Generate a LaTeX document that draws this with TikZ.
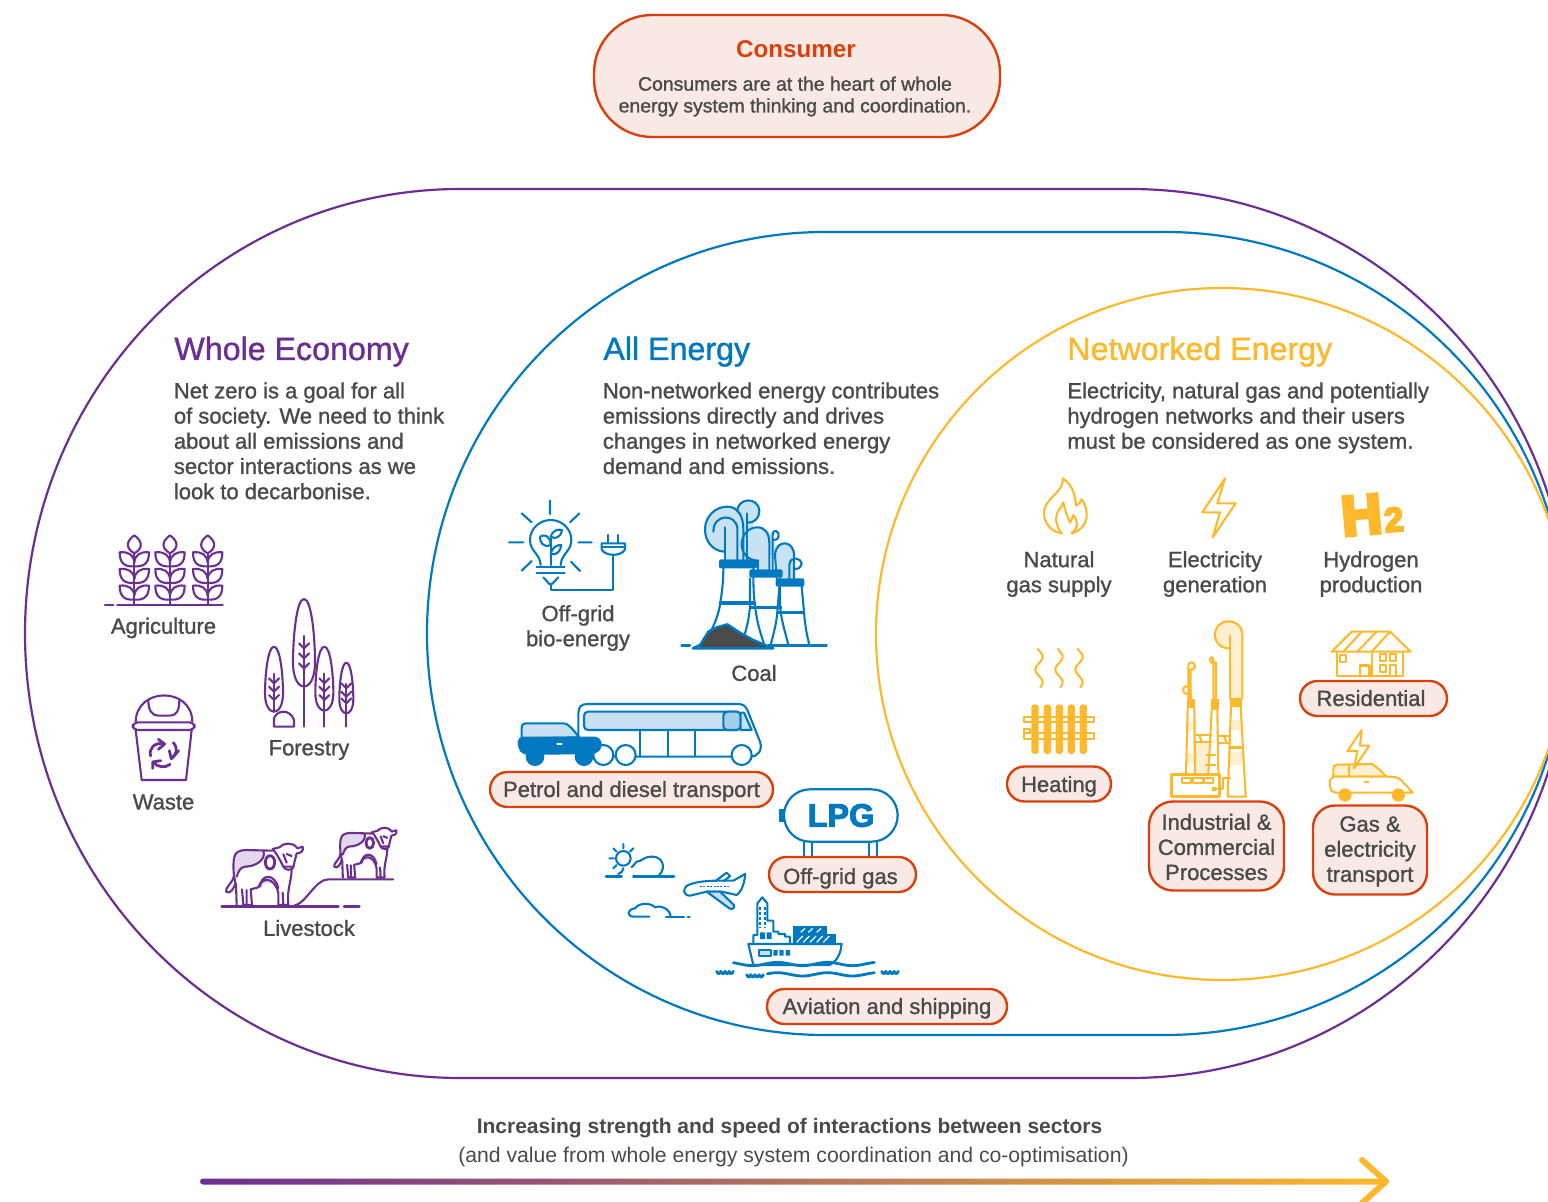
\documentclass[tikz,border=0pt]{standalone}
\usepackage{fontspec}
\setmainfont{Liberation Sans}
\newfontfamily\medfont[FakeBold=1.2]{Liberation Sans}
\newfontfamily\boldfont{Liberation Sans Bold}
\newfontfamily\lpgfont[FakeBold=3]{Liberation Sans Bold}
\newfontfamily\heavyfont[FakeBold=7]{Liberation Sans Bold}
\definecolor{ecopurple}{HTML}{6B2E91}
\definecolor{enblue}{HTML}{0079C1}
\definecolor{netyellow}{HTML}{FDB92B}
\definecolor{lightblue}{HTML}{C9E2F3}
\definecolor{midblue}{HTML}{A3CFEB}
\definecolor{lightyellow}{HTML}{FEEFD0}
\definecolor{lightpurple}{HTML}{E3D8EC}
\definecolor{txt}{HTML}{4A4A4A}
\definecolor{pillred}{HTML}{D9400B}
\definecolor{pillfill}{HTML}{F9E9E5}
\tikzset{
  zoomed/.style 2 args={shift={(#1,#2)},x=0.16667pt,y=-0.16667pt},
  ico/.style={line width=1.05pt,line join=round,line cap=round},
  purpleico/.style={ico,draw=ecopurple},
  blueico/.style={ico,draw=enblue},
  yellowico/.style={ico,draw=netyellow},
  heading/.style={anchor=base west,inner sep=0pt,font=\medfont\fontsize{16.1}{19}\selectfont},
  bodytext/.style={anchor=north west,inner sep=0pt,align=left,text=txt,font=\medfont\fontsize{11}{12.6}\selectfont},
  lbl/.style={inner sep=0pt,align=center,text=txt,font=\medfont\fontsize{11}{12.55}\selectfont},
  pillbox/.style={draw=pillred,fill=pillfill,line width=1.2pt,inner sep=0pt,align=center,text=txt,
    font=\medfont\fontsize{11}{12.55}\selectfont,rounded corners=8.7pt,minimum height=17.5pt},
  pillbase/.style={text height=#1,text depth=0pt},
}
% crown and trunk of one tree, in zoomed units
\newcommand{\treeicon}[6]{%
  \pgfmathsetmacro{\trh}{#3-#2}%
  \draw[purpleico,shift={(#1,0)}] (0,#2) .. controls ({0.7*#4},#2) and (#4,{#2+0.45*\trh}) .. (#4,{#2+0.72*\trh})
     .. controls (#4,{#2+0.92*\trh}) and ({0.45*#4},#3) .. (0,#3)
     .. controls ({-0.45*#4},#3) and (-#4,{#2+0.92*\trh}) .. (-#4,{#2+0.72*\trh})
     .. controls (-#4,{#2+0.45*\trh}) and ({-0.7*#4},#2) .. (0,#2) -- cycle;
  \foreach \bry in {#6} {
    \draw[purpleico,shift={(#1,0)}] (-15,{\bry-15}) -- (0,\bry) -- (15,{\bry-15});
  }
  \draw[purpleico] (#1,#5) -- (#1,{#2+0.42*\trh});
}
% one cow, in zoomed units
\newcommand{\cowicon}{%
  \fill[lightpurple] (437,1005) .. controls (437,992) and (455,990) .. (470,990) -- (520,992)
     .. controls (530,1020) and (495,1040) .. (465,1040) .. controls (450,1042) and (445,1055) .. (435,1060) -- cycle;
  \fill[lightpurple] (510,1100) .. controls (512,1062) and (555,1058) .. (565,1105) .. controls (545,1085) and (525,1085) .. (510,1100) -- cycle;
  \draw[purpleico] (440,1155) -- (438,1095) .. controls (428,1060) and (430,1030) .. (432,1015)
     .. controls (434,995) and (450,990) .. (470,990) -- (547,992);
  \draw[purpleico] (520,992) .. controls (530,1020) and (495,1040) .. (465,1040) .. controls (450,1042) and (445,1055) .. (440,1070);
  \draw[purpleico] (432,1065) .. controls (430,1090) and (405,1100) .. (408,1115) .. controls (420,1125) and (432,1105) .. (436,1090);
  \draw[purpleico,fill=white] (548,987) -- (568,982) .. controls (580,968) and (610,965) .. (622,985)
     -- (638,980) .. controls (642,995) and (630,1000) .. (620,1000)
     .. controls (615,1020) and (612,1030) .. (610,1042) .. controls (605,1052) and (585,1052) .. (580,1040)
     .. controls (570,1020) and (560,1000) .. (548,987) -- cycle;
  \draw[purpleico] (580,1003) -- (590,1028) (590,1002) -- (605,1008) (580,1040) -- (610,1040);
  \draw[purpleico] (605,1050) .. controls (603,1090) and (590,1110) .. (595,1155) -- (565,1155) -- (565,1120)
     .. controls (555,1070) and (515,1070) .. (505,1102) -- (482,1108) -- (486,1155) -- (460,1155) -- (456,1108);
  \draw[purpleico] (580,1155) -- (578,1118) (470,1155) -- (470,1110);
  \draw[purpleico,fill=white,line width=1.4pt] (540,1027) ellipse [x radius=14,y radius=20];
  \draw[purpleico] (510,1100) .. controls (512,1062) and (555,1058) .. (565,1105);
}
\begin{document}
\begin{tikzpicture}[x=0.5pt,y=-0.5pt]
\useasboundingbox (0,0) rectangle (1548,1202);
\clip (0,0) rectangle (1548,1202);
\coordinate (pTop) at (460,189);
% nested regions
\draw[ecopurple,line width=1.1pt] (pTop) -- (1130,189)
  .. controls (1373,189) and (1570,388) .. (1570,633.5)
  .. controls (1570,879) and (1373,1078) .. (1130,1078) -- (460,1078)
  .. controls (220,1078) and (25,879) .. (25,633.5)
  .. controls (25,388) and (220,189) .. (pTop) -- cycle;
\draw[enblue,line width=1.1pt] (825,232) -- (1165,232)
  .. controls (1387,232) and (1567,412) .. (1567,633.5)
  .. controls (1567,855) and (1387,1035) .. (1165,1035) -- (825,1035)
  .. controls (605,1035) and (427,855) .. (427,633.5)
  .. controls (427,412) and (605,232) .. (825,232) -- cycle;
\draw[netyellow,line width=1.1pt] (1222,288) .. controls (1413,288) and (1568,443) .. (1568,634)
  .. controls (1568,825) and (1413,980) .. (1222,980)
  .. controls (1031,980) and (876,825) .. (876,634)
  .. controls (876,443) and (1031,288) .. (1222,288) -- cycle;

% consumer
\node[pillbox,minimum width=203pt,minimum height=61pt,rounded corners=29pt] (consumer) at (797,76) {};
\node[inner sep=0pt,text=pillred,font=\boldfont\fontsize{12.1}{14}\selectfont] (consumerhead) at (796,49) {Consumer};
\node[inner sep=0pt,align=center,text=txt,font=\medfont\fontsize{9.7}{10.9}\selectfont] (consumertext) at (795,96.5) {Consumers are at the heart of whole\\energy system thinking and coordination.};

% headings and texts
\node[heading,text=ecopurple] (wehead) at (174,360) {Whole Economy};
\node[heading,text=enblue] (aehead) at (603,360) {All Energy};
\node[heading,text=netyellow] (nehead) at (1067,360) {Networked Energy};
\node[bodytext] (wetext) at (173.5,382) {Net zero is a goal for all\\of society. We need to think\\about all emissions and\\sector interactions as we\\look to decarbonise.};
\node[bodytext] (aetext) at (602.5,382) {Non-networked energy contributes\\emissions directly and drives\\changes in networked energy\\demand and emissions.};
\node[bodytext] (netext) at (1067,382) {Electricity, natural gas and potentially\\hydrogen networks and their users\\must be considered as one system.};

% ---- purple icons
\begin{scope}[zoomed={90}{520}]
  \draw[purpleico,line width=1.2pt] (45,255) -- (70,255) (82,255) -- (398,255);
  \foreach \wx in {133,240,353} {
    \begin{scope}[shift={(\wx,0)}]
      \draw[purpleico] (0,100) -- (0,255);
      \draw[purpleico] (0,46) .. controls (26,65) and (26,85) .. (0,100) .. controls (-26,85) and (-26,65) .. (0,46) -- cycle;
      \foreach \ty in {97,147,197} {
        \begin{scope}[shift={(0,\ty)}]
          \draw[purpleico] (0,42) .. controls (-30,44) and (-44,32) .. (-44,0) .. controls (-18,-3) and (-2,8) .. (0,30);
          \draw[purpleico] (0,42) .. controls (30,44) and (44,32) .. (44,0) .. controls (18,-3) and (2,8) .. (0,30);
        \end{scope}
      }
    \end{scope}
  }
  % forestry
  \treeicon{552}{380}{575}{27}{575}{490,515,540}
  \treeicon{642}{237}{500}{33}{620}{385,415,445}
  \treeicon{703}{380}{572}{27}{620}{490,515,540}
  \treeicon{769}{428}{580}{21}{620}{505,530,550}
  \draw[purpleico] (552,620) -- (552,595) .. controls (560,570) and (600,565) .. (612,600) -- (612,620) -- cycle;
  % waste bin
  \draw[purpleico] (137,605) .. controls (140,500) and (305,500) .. (307,605);
  \draw[purpleico] (175,540) .. controls (175,570) and (185,587) .. (205,587) -- (240,587) .. controls (260,587) and (268,570) .. (268,540);
  \draw[purpleico,rounded corners=2.5pt] (128,607) rectangle (314,630);
  \draw[purpleico] (137,630) -- (155,780) -- (288,780) -- (305,630);
  \draw[purpleico,line width=1.4pt] (182,708) .. controls (175,685) and (195,665) .. (222,672);
  \draw[purpleico,line width=1.4pt] (205,658) -- (224,672) -- (205,688);
  \draw[purpleico,line width=1.4pt] (250,668) .. controls (265,685) and (260,705) .. (245,715);
  \draw[purpleico,line width=1.4pt] (266,692) -- (244,716) -- (238,692);
  \draw[purpleico,line width=1.4pt] (240,733) .. controls (225,745) and (205,742) .. (190,728);
  \draw[purpleico,line width=1.4pt] (188,745) -- (188,726) -- (212,722);
  % livestock
  \draw[purpleico,line width=1.2pt] (395,1160) -- (745,1160) (762,1160) -- (808,1160);
  \draw[purpleico] (610,1158) .. controls (650,1150) and (675,1078) .. (715,1078) -- (910,1078);
  \cowicon
  \begin{scope}[shift={(402,137)},scale=0.81]
    \cowicon
  \end{scope}
\end{scope}
\node[lbl] (agri) at (163.5,628) {Agriculture};
\node[lbl] (forest) at (309,750) {Forestry};
\node[lbl] (waste) at (163.5,802) {Waste};
\node[lbl] (live) at (309,928) {Livestock};

% ---- blue icons top
\begin{scope}[zoomed={490}{490}]
  % bulb
  \draw[blueico] (180,32) -- (180,72) (95,70) -- (125,97) (268,70) -- (240,97) (57,157) -- (100,157)
     (265,157) -- (305,157) (95,242) -- (125,213) (270,243) -- (243,215);
  \draw[blueico] (152,225) .. controls (150,190) and (120,185) .. (120,150) .. controls (120,115) and (150,90) .. (182,90)
     .. controls (214,90) and (244,115) .. (244,150) .. controls (244,185) and (214,190) .. (212,225);
  \draw[blueico] (140,232) -- (224,232) (140,250) -- (224,250);
  \draw[blueico] (160,262) -- (178,282) -- (186,282) -- (205,262);
  \draw[blueico] (182,225) -- (182,145);
  \draw[blueico] (182,165) .. controls (160,175) and (148,155) .. (150,140) .. controls (165,130) and (182,140) .. (182,165) -- cycle;
  \draw[blueico] (182,140) .. controls (190,118) and (205,118) .. (216,120) .. controls (215,140) and (195,150) .. (182,140) -- cycle;
  \draw[blueico] (182,192) .. controls (188,170) and (200,165) .. (214,165) .. controls (212,185) and (198,197) .. (182,192) -- cycle;
  \draw[blueico] (182,283) -- (182,300) -- (370,300) -- (370,200);
  \draw[blueico] (355,135) -- (355,160) (385,135) -- (385,160);
  \draw[blueico,fill=white] (335,160) -- (405,160) -- (405,178) .. controls (395,200) and (345,200) .. (335,178) -- cycle;
  \draw[blueico] (335,172) -- (405,172);
  % coal smoke
  \fill[lightblue] (712,118) circle [radius=67];
  \fill[lightblue] (705,118) rectangle (760,208);
  \fill[lightblue] (775,65) circle [radius=35];
  \fill[lightblue] (760,65) rectangle (790,208);
  \fill[lightblue] (805,163) circle [radius=50];
  \fill[lightblue] (805,163) rectangle (838,238);
  \fill[lightblue] (880,190) circle [radius=32];
  \fill[lightblue] (860,190) rectangle (912,265);
  \draw[blueico] (760,208) -- (760,118) .. controls (760,80) and (745,50) .. (712,50) .. controls (675,50) and (645,80) .. (645,118) .. controls (645,155) and (670,185) .. (705,185);
  \draw[blueico] (670,125) .. controls (670,70) and (738,70) .. (742,115) -- (742,208);
  \draw[blueico] (706,112) -- (706,208);
  \draw[blueico] (772,208) -- (772,70);
  \draw[blueico] (742,65) .. controls (742,20) and (808,20) .. (808,65) .. controls (808,85) and (790,100) .. (772,98);
  \draw[blueico] (838,238) -- (838,160) .. controls (838,130) and (825,112) .. (802,112) .. controls (775,112) and (755,135) .. (755,163) .. controls (755,190) and (775,212) .. (805,212);
  \draw[blueico] (805,212) -- (805,238);
  \draw[blueico] (848,238) -- (848,135) .. controls (848,115) and (868,122) .. (866,138) .. controls (864,148) and (855,152) .. (848,150);
  \draw[blueico] (860,265) -- (855,195) .. controls (858,145) and (915,150) .. (912,200) -- (912,265);
  \draw[blueico] (898,265) -- (898,225) .. controls (900,195) and (935,205) .. (935,220) .. controls (932,235) and (920,240) .. (912,235);
  % coal towers
  \draw[blueico] (700,235) .. controls (700,280) and (695,310) .. (690,345) .. controls (680,400) and (655,440) .. (630,470);
  \draw[blueico] (790,235) .. controls (790,280) and (790,310) .. (795,345) .. controls (800,400) and (815,440) .. (825,470);
  \draw[blueico] (780,265) -- (780,350) .. controls (775,400) and (770,410) .. (765,430);
  \draw[blueico] (870,265) -- (870,350) .. controls (875,400) and (890,440) .. (895,465);
  \draw[blueico] (868,290) -- (862,365) .. controls (860,400) and (848,440) .. (842,465);
  \draw[blueico] (935,290) -- (942,365) .. controls (945,410) and (952,440) .. (958,465);
  \fill[enblue,rounded corners=1pt] (687,208) rectangle (801,235);
  \fill[enblue,rounded corners=1pt] (778,238) rectangle (878,263);
  \fill[enblue,rounded corners=1pt] (857,265) rectangle (943,290);
  \fill[enblue] (686,333) rectangle (795,346);
  \fill[enblue] (780,347) rectangle (875,358);
  \fill[enblue] (860,362) rectangle (943,373);
  \draw[blueico,line width=1.2pt] (575,466) -- (600,466) (835,466) -- (1010,466);
  \draw[enblue,line width=1.2pt,fill=txt,line join=round] (608,475) -- (630,465) -- (655,425) -- (680,412) -- (712,403) -- (745,425) -- (790,450) -- (850,475) -- cycle;
  % bus
  \draw[blueico,fill=white] (265,800) -- (265,670) .. controls (265,650) and (275,642) .. (292,642) -- (745,642)
     .. controls (760,642) and (768,650) .. (772,660) -- (810,755) .. controls (818,780) and (805,800) .. (780,800) -- cycle;
  \draw[blueico,fill=lightblue,rounded corners=2pt] (282,665) rectangle (752,720);
  \draw[blueico,fill=midblue,rounded corners=2pt] (700,665) rectangle (752,720);
  \draw[blueico,fill=lightblue] (752,668) -- (762,668) -- (785,720) -- (752,720) -- cycle;
  \draw[blueico] (450,720) -- (450,800) (533,720) -- (533,800) (615,720) -- (615,800);
  \draw[blueico,fill=white] (340,795) circle [radius=30];
  \draw[blueico,fill=white] (407,795) circle [radius=30];
  \draw[blueico,fill=white] (755,795) circle [radius=30];
  % car
  \draw[blueico,fill=lightblue] (95,745) -- (95,715) .. controls (95,703) and (100,700) .. (110,700) -- (220,700) .. controls (235,700) and (245,715) .. (268,742) -- cycle;
  \fill[enblue,rounded corners=2.5pt] (83,740) -- (330,740) -- (338,770) -- (320,792) -- (100,795) -- (83,775) -- cycle;
  \fill[enblue] (135,800) circle [radius=28];
  \fill[enblue] (282,800) circle [radius=28];
  \draw[white,line width=1pt,line cap=round] (202,763) -- (215,763);
\end{scope}
\node[lbl] (biolabel) at (578,628) {Off-grid\\bio-energy};
\node[lbl] (coallabel) at (754,673) {Coal};

% ---- blue icons bottom
\begin{scope}[zoomed={590}{780}]
  % LPG
  \fill[enblue] (567,88) rectangle (584,125);
  \draw[blueico,line width=1.1pt] (642,185) -- (642,235) (665,185) -- (665,235) (838,185) -- (838,235) (860,185) -- (860,235);
  \draw[blueico,line width=1.1pt,fill=white] (660,28) -- (845,28) .. controls (890,28) and (923,65) .. (923,106) .. controls (923,148) and (890,185) .. (845,185) -- (660,185)
    .. controls (615,185) and (582,148) .. (582,106) .. controls (582,65) and (615,28) .. (660,28) -- cycle;
  % sun and cloud
  \draw[blueico] (100,235) circle [radius=22];
  \draw[blueico] (100,192) -- (100,205) (70,205) -- (80,215) (130,205) -- (120,215) (58,235) -- (72,235) (70,265) -- (80,255) (100,265) -- (96,275) -- (85,282);
  \draw[blueico] (125,262) -- (140,245) .. controls (155,245) and (160,230) .. (185,230) .. controls (230,230) and (225,280) .. (200,290);
  \draw[blueico,line width=1.2pt] (48,290) -- (95,290) (130,290) -- (252,290);
  % plane
  \draw[blueico] (350,335) -- (300,347) .. controls (280,347) and (275,325) .. (295,315) .. controls (330,300) and (380,302) .. (430,302) -- (465,282) .. controls (465,305) and (455,335) .. (440,345) -- (395,335) -- cycle;
  \draw[blueico] (378,302) -- (410,278) -- (420,288) -- (402,303);
  \draw[blueico,fill=lightblue] (350,335) -- (390,335) -- (432,375) .. controls (435,385) and (425,390) .. (418,385) -- cycle;
  \draw[blueico,line width=0.8pt,dash pattern=on 1pt off 0.7pt,line cap=butt] (330,320) -- (416,320);
  % low cloud
  \draw[blueico] (178,410) -- (132,410) .. controls (110,410) and (110,388) .. (135,385) .. controls (150,365) and (185,370) .. (195,382) .. controls (210,375) and (240,385) .. (242,410);
  \draw[blueico] (228,410) -- (282,410) (293,410) -- (299,410);
  % ship
  \draw[blueico,fill=white] (475,492) -- (755,492) -- (752,510) .. controls (745,535) and (732,550) .. (718,555) -- (490,555) -- cycle;
  \draw[blueico,fill=lightblue] (507,510) rectangle (543,527);
  \fill[enblue] (550,510) rectangle (563,527) (568,510) rectangle (581,527) (587,510) rectangle (600,527);
  \draw[blueico] (490,490) -- (490,465) -- (502,465) -- (502,370) -- (517,352) -- (532,370) -- (532,422) -- (550,422) -- (550,455) -- (565,455) -- (565,462) -- (585,462) -- (585,470) -- (600,470) -- (600,490);
  \fill[enblue] (510,457) rectangle (525,477) (530,457) rectangle (545,477);
  \draw[blueico,line width=1.3pt,dash pattern=on 1.5pt off 1pt,line cap=butt] (510,380) -- (510,445) (525,380) -- (525,445);
  \fill[enblue] (608,437) rectangle (710,462);
  \fill[enblue] (610,463) rectangle (737,490);
  \draw[white,line width=0.6pt] (632,457) -- (645,445) (655,457) -- (668,445) (680,457) -- (693,445)
    (620,487) -- (638,468) (640,487) -- (658,468) (660,487) -- (678,468) (680,487) -- (698,468) (700,487) -- (718,468);
  % waves
  \draw[blueico,line width=1.4pt,smooth] plot[domain=430:853,samples=60] (\x,{552+5*sin(2.4*\x)});
  \draw[blueico,line width=1.4pt,smooth] plot[domain=532:853,samples=50] (\x,{583+5*sin(2.4*\x)});
  \draw[blueico,line width=1.4pt,smooth] plot[domain=380:430,samples=21] (\x,{574+7*abs(sin(14.4*(\x-380)))});
  \draw[blueico,line width=1.4pt,smooth] plot[domain=470:520,samples=21] (\x,{584+7*abs(sin(14.4*(\x-470)))});
  \draw[blueico,line width=1.4pt,smooth] plot[domain=875:925,samples=21] (\x,{574+7*abs(sin(14.4*(\x-875)))});
\end{scope}
\node[inner sep=0pt,text=enblue,font=\lpgfont\fontsize{16.2}{18}\selectfont] (lpgtext) at (841,815.5) {LPG};

% ---- yellow icons
\begin{scope}[zoomed={1000}{470}]
  \draw[yellowico] (185,190) .. controls (150,185) and (130,155) .. (132,125) .. controls (135,95) and (165,78) .. (180,55) .. controls (187,45) and (190,35) .. (188,25)
    .. controls (225,50) and (225,85) .. (228,107) .. controls (238,102) and (243,95) .. (245,88)
    .. controls (258,105) and (260,125) .. (260,135) .. controls (262,160) and (240,185) .. (215,190);
  \draw[yellowico] (185,190) .. controls (170,172) and (162,145) .. (175,122) .. controls (182,112) and (188,105) .. (190,97)
    .. controls (195,125) and (205,145) .. (210,158) .. controls (215,150) and (218,142) .. (220,135)
    .. controls (232,150) and (235,165) .. (225,180) -- (215,190);
  \draw[yellowico] (675,25) -- (607,127) -- (660,127) -- (638,202) -- (707,100) -- (652,100) -- cycle;
\end{scope}
\node[inner sep=0pt,rotate=5,text=netyellow,font=\heavyfont\fontsize{28}{30}\selectfont] (h2) at (1372,514) {H{\fontsize{17}{18}\selectfont\hspace{1pt}2}};
\node[lbl] (gaslabel) at (1059,574) {Natural\\gas supply};
\node[lbl] (eleclabel) at (1215,574) {Electricity\\generation};
\node[lbl] (hydrolabel) at (1371,574) {Hydrogen\\production};

\begin{scope}[zoomed={1000}{615}]
  % radiator
  \foreach \sx in {117,177,237} {
    \draw[yellowico,smooth] plot[domain=102:217,samples=30] ({\sx+11*sin((\x-102)*4.7-20)},\x);
  }
  \draw[yellowico] (72,305) rectangle (282,322);
  \draw[yellowico] (72,355) rectangle (282,373);
  \draw[yellowico] (72,342) rectangle (90,355);
  \foreach \rx in {105,142,178,214,250} {
    \fill[netyellow,rounded corners=1.5pt] ({\rx-11},268) rectangle ({\rx+11},417);
  }
  % industrial
  \fill[lightyellow] (685,60) circle [radius=40];
  \fill[lightyellow] (690,60) rectangle (725,250);
  \fill[lightyellow] (695,315) rectangle (722,345);
  \fill[lightyellow] (690,410) rectangle (728,450);
  \fill[lightyellow] (562,320) rectangle (582,350) (560,415) rectangle (583,445) (585,385) rectangle (625,470);
  \draw[yellowico] (690,250) -- (690,62);
  \draw[yellowico] (727,250) -- (727,60) .. controls (727,5) and (645,5) .. (645,60) .. controls (645,85) and (665,102) .. (690,100);
  \fill[netyellow] (690,248) rectangle (727,275);
  \draw[yellowico] (693,275) -- (683,545) (722,275) -- (737,545) (683,545) -- (737,545);
  \fill[netyellow] (689,392) rectangle (727,402);
  \draw[yellowico] (565,253) -- (565,155) .. controls (565,135) and (585,140) .. (585,155) .. controls (583,163) and (578,165) .. (572,163) (572,163) -- (572,253);
  \draw[yellowico] (572,250) -- (572,225) .. controls (565,205) and (545,215) .. (550,228) .. controls (553,238) and (565,238) .. (565,235);
  \fill[netyellow] (560,253) rectangle (585,280);
  \draw[yellowico] (563,280) -- (558,475) (583,280) -- (585,475);
  \draw[yellowico] (640,253) -- (640,140) .. controls (640,120) and (630,125) .. (630,135) .. controls (632,145) and (640,148) .. (648,143) -- (648,253);
  \fill[netyellow] (632,253) rectangle (657,285);
  \draw[yellowico] (635,285) -- (625,475) (652,285) -- (655,475);
  \draw[yellowico] (583,360) -- (635,360) (583,382) -- (635,382) (655,362) -- (690,362) (655,385) -- (690,385);
  \draw[yellowico] (598,362) -- (606,382) (672,362) -- (680,385);
  \draw[yellowico] (620,420) -- (645,420) (618,450) -- (645,450);
  \draw[yellowico,line width=1.3pt,fill=white] (515,478) rectangle (658,545);
  \draw[yellowico] (545,488) rectangle (572,503) (578,488) rectangle (608,503) (612,488) rectangle (640,503);
  \draw[yellowico] (640,522) -- (668,522) -- (668,490) -- (690,490);
  \fill[netyellow] (636,517) rectangle (648,528);
  % house
  \draw[yellowico] (995,110) -- (1055,50) -- (1170,50) -- (1232,110) -- cycle;
  \draw[yellowico] (1030,110) -- (1085,50) (1072,110) -- (1130,50) (1115,110) -- (1170,50);
  \draw[yellowico] (1012,110) -- (1012,184) -- (1208,184) -- (1208,110) (1115,110) -- (1115,184);
  \draw[yellowico] (1020,120) rectangle (1038,140);
  \draw[yellowico,line width=1.2pt] (1080,184) -- (1080,152) -- (1108,152) -- (1108,184);
  \draw[yellowico] (1140,117) rectangle (1158,138) (1170,117) rectangle (1188,138) (1140,150) rectangle (1158,172) (1170,150) rectangle (1188,184);
  % car with bolt
  \draw[yellowico,fill=lightyellow] (1000,485) -- (1000,462) .. controls (1000,452) and (1005,449) .. (1012,449) -- (1115,447) .. controls (1130,455) and (1145,470) .. (1160,485) -- cycle;
  \draw[yellowico] (1048,450) -- (1048,485);
  \draw[yellowico,fill=white] (1000,485) -- (1165,485) .. controls (1190,485) and (1198,490) .. (1205,497) -- (1238,533) -- (1005,533) .. controls (990,530) and (988,515) .. (990,495) -- cycle;
  \draw[netyellow,line width=1pt] (1092,502) -- (1108,502);
  \fill[netyellow] (1035,540) circle [radius=20];
  \fill[netyellow] (1195,540) circle [radius=20];
  \draw[yellowico] (1085,345) -- (1042,408) -- (1072,408) -- (1062,460) -- (1108,392) -- (1080,392) -- cycle;
\end{scope}

% labelled boxes
\node[pillbox,minimum width=141.5pt,pillbase=7.5pt] (petrol) at (631.5,789.5) {Petrol and diesel transport};
\node[pillbox,minimum width=73.5pt,pillbase=9.5pt] (offgrid) at (842.5,874.5) {Off-grid gas\hspace{2pt}};
\node[pillbox,minimum width=120pt,pillbase=7.5pt] (aviation) at (887,1006.5) {Aviation and shipping};
\node[pillbox,minimum width=52pt,pillbase=8pt] (heating) at (1059,784) {Heating};
\node[pillbox,minimum width=73.5pt,pillbase=7.5pt] (residential) at (1373.5,698.5) {Residential\hspace{2.5pt}};
\node[pillbox,minimum width=67.5pt,minimum height=44.5pt,rounded corners=12pt] (industrial) at (1216.5,846) {\rule{0pt}{9pt}Industrial \&\\Commercial\\Processes};
\node[pillbox,minimum width=57pt,minimum height=44.5pt,rounded corners=11pt] (gastransport) at (1370,850) {\rule{0pt}{9pt}Gas \&\\electricity\\transport};

% bottom caption and arrow
\node[inner sep=0pt,text=txt,font=\boldfont\fontsize{10.5}{12}\selectfont] (cap1) at (789.5,1128) {Increasing strength and speed of interactions between sectors};
\node[inner sep=0pt,text=txt,font=\fontsize{10.6}{12}\selectfont] (cap2) at (793.5,1157) {(and value from whole energy system coordination and co-optimisation)};
\coordinate (arrowstart) at (200,1178.5);
\coordinate (arrowend) at (1386,1184.5);
\coordinate (tiptop) at (1362,1160);
\coordinate (tip) at (1386,1181.5);
\coordinate (tipbottom) at (1362,1203);
\shade[left color=ecopurple,right color=netyellow,rounded corners=1.5pt] (arrowstart) rectangle (arrowend);
\draw[netyellow,line width=3pt,line cap=round,line join=round] (tiptop) -- (tip) -- (tipbottom);
\end{tikzpicture}
\end{document}
